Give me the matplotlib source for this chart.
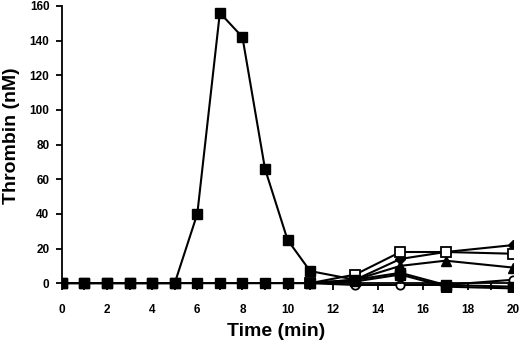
import numpy as np
import matplotlib
matplotlib.use("Agg")
import matplotlib.pyplot as plt

plt.rcParams['font.family'] = ['Liberation Sans', 'DejaVu Sans']
plt.rcParams['font.weight'] = 'bold'

# peak series (filled squares)
t_peak = [0, 1, 2, 3, 4, 5, 6, 7, 8, 9, 10, 11, 13, 15, 17, 20]
y_peak = [0, 0, 0, 0, 0, 0, 40, 156, 142, 66, 25, 7, 2, 6, -1, -2]

# baseline series (filled squares)
t_low = [0, 1, 2, 3, 4, 5, 6, 7, 8, 9, 10, 11, 13, 15, 17, 20]
y_low = [0, 0, 0, 0, 0, 0, 0, 0, 0, 0, 0, 0, 1, 5, -2, -3]

# late series, all start from baseline at 11 min
t_late = [11, 13, 15, 17, 20]
y_open_sq = [0, 5, 18, 18, 17]
y_diamond = [0, 2, 14, 18, 22]
y_triangle = [0, 2, 10, 13, 9]
y_circle = [0, -1, -1, -1, 2]

fig = plt.figure(figsize=(5.2, 3.45), dpi=100)
ax = fig.add_axes([0.119, 0.154, 0.868, 0.829])

lw = 1.5
ax.plot(t_late, y_circle, '-o', color='black', mfc='white', mec='black', ms=6, lw=lw, mew=1.3, zorder=2)
ax.plot(t_late, y_triangle, '-^', color='black', ms=6.5, lw=lw, zorder=2)
ax.plot(t_late, y_diamond, '-D', color='black', ms=5.5, lw=lw, zorder=2)
ax.plot(t_late, y_open_sq, '-s', color='black', mfc='white', mec='black', ms=6.5, lw=lw, mew=1.3, zorder=2)
ax.plot(t_low, y_low, '-s', color='black', ms=6.5, lw=lw, zorder=3)
ax.plot(t_peak, y_peak, '-s', color='black', ms=6.5, lw=lw, zorder=3)

ax.set_xlim(0, 20)
ax.set_ylim(-5, 160)
ax.spines['top'].set_visible(False)
ax.spines['right'].set_visible(False)
ax.spines['bottom'].set_position(('data', 0))
ax.spines['left'].set_bounds(0, 160)
ax.spines['left'].set_linewidth(1.3)
ax.spines['bottom'].set_linewidth(1.3)

ax.set_xticks(np.arange(0, 21, 2))
ax.set_xticks(np.arange(0, 21, 1), minor=True)
ax.set_yticks(np.arange(0, 161, 20))
ax.tick_params(axis='x', which='both', direction='out', length=5, width=1.3, pad=10, labelsize=8.5)
ax.tick_params(axis='y', direction='out', length=4, width=1.3, pad=5, labelsize=8.5)

ax.set_xlabel('Time (min)', fontsize=14, fontweight='bold')
ax.set_ylabel('Thrombin (nM)', fontsize=14, fontweight='bold')
ax.xaxis.set_label_coords(0.475, -0.11)
ax.yaxis.set_label_coords(-0.092, 0.545)

fig.savefig('out.png', dpi=100)
